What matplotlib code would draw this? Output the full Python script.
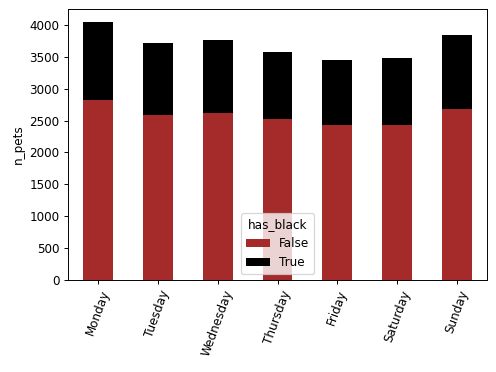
import matplotlib.pyplot as plt
import numpy as np

days = ['Monday', 'Tuesday', 'Wednesday', 'Thursday', 'Friday', 'Saturday', 'Sunday']
n_false = [2823, 2583, 2620, 2526, 2427, 2430, 2682]
n_true = [1224, 1130, 1151, 1052, 1016, 1049, 1167]

plt.rcParams['font.size'] = 10
dpi = 86.4

fig = plt.figure(figsize=(497/dpi, 372/dpi), dpi=dpi)
ax = fig.add_axes([68/497, 1 - 280/372, (487-68)/497, (280-9)/372])

x = np.arange(len(days))
ax.bar(x, n_false, width=0.5, color='brown', label='False')
ax.bar(x, n_true, width=0.5, bottom=n_false, color='black', label='True')

ax.set_xlim(-0.5, len(days) - 0.5)
ax.set_ylim(0, 4250)
ax.set_yticks(np.arange(0, 4001, 500))
ax.set_xticks(x)
ax.set_xticklabels(days, rotation=70)
ax.set_ylabel('n_pets')
ax.legend(title='has_black', loc='lower center')

fig.savefig('out.png', dpi=dpi)
